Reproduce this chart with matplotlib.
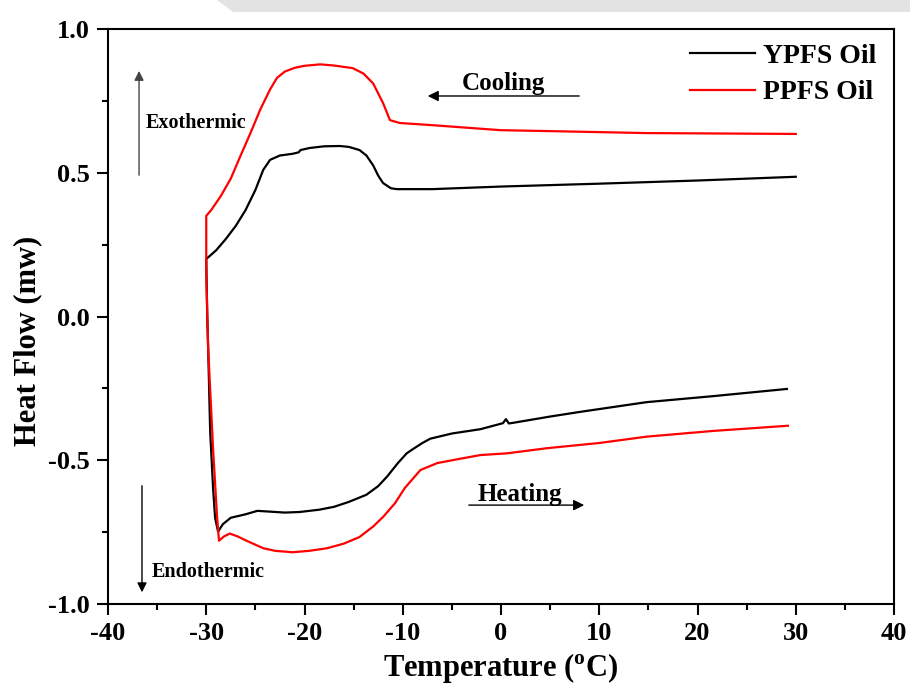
import matplotlib
matplotlib.use("Agg")
import matplotlib.pyplot as plt
from matplotlib.patches import Polygon

plt.rcParams.update({
    "font.family": "serif",
    "font.serif": ["Liberation Serif", "DejaVu Serif"],
    "font.weight": "bold",
    "axes.labelweight": "bold",
    "mathtext.fontset": "custom",
    "mathtext.rm": "Liberation Serif:bold",
    "mathtext.bf": "Liberation Serif:bold",
})

# YPFS oil: cooling run (30 -> -30 C) then heating run (-30 -> 30 C)
ypfs_cool_t = [30, 20, 10, 0, -7, -10.6, -11.2, -12, -12.5, -13, -13.7, -14.4, -15.5,
               -16.4, -18, -19.5, -20.4, -20.6, -21.2, -22.5, -23.5, -24.2, -25,
               -26, -27, -28, -29, -30]
ypfs_cool_hf = [0.486, 0.473, 0.462, 0.452, 0.443, 0.443, 0.446, 0.464, 0.49, 0.525,
                0.56, 0.579, 0.59, 0.593, 0.592, 0.586, 0.579, 0.571, 0.566, 0.56,
                0.545, 0.51, 0.44, 0.37, 0.315, 0.27, 0.23, 0.20]
ypfs_heat_t = [-30, -29.9, -29.8, -29.6, -29.3, -29.1, -28.8, -28.3, -27.5, -26, -24.8,
               -22, -20.5, -18.5, -17, -15.5, -13.7, -12.5, -11.6, -10.5, -9.6, -9.0,
               -8.0, -7.2, -5, -2.1, 0.2, 0.5, 0.8, 1.2, 5, 8, 14.8, 21.6, 29.1]
ypfs_heat_hf = [0.20, 0.0, -0.12, -0.40, -0.60, -0.70, -0.748, -0.722, -0.70, -0.688,
                -0.676, -0.682, -0.68, -0.672, -0.662, -0.645, -0.62, -0.59, -0.557,
                -0.51, -0.476, -0.462, -0.44, -0.425, -0.407, -0.392, -0.371, -0.357,
                -0.372, -0.370, -0.348, -0.332, -0.298, -0.277, -0.252]

# PPFS oil
ppfs_cool_t = [30, 20, 14.8, 4.7, 0, -7.2, -10.3, -11.3, -12, -13, -14, -15.1, -17,
               -18.4, -20, -21, -22, -22.8, -23.5, -24.5, -25.5, -26.5, -27.5, -28.5,
               -29.5, -30]
ppfs_cool_hf = [0.635, 0.637, 0.638, 0.645, 0.648, 0.666, 0.673, 0.683, 0.742, 0.81,
                0.845, 0.864, 0.873, 0.877, 0.872, 0.865, 0.852, 0.83, 0.79, 0.72,
                0.638, 0.56, 0.48, 0.42, 0.37, 0.35]
ppfs_heat_t = [-30, -30, -29.8, -29.3, -28.9, -28.7, -28.2, -27.6, -26.8, -25.9, -24.2,
               -23, -21.2, -19.5, -17.7, -16, -14.4, -13, -12, -10.8, -9.8, -8.2,
               -6.5, -4.2, -2.1, 0.6, 4.7, 10, 14.8, 21.6, 29.2]
ppfs_heat_hf = [0.35, 0.15, -0.116, -0.464, -0.697, -0.78, -0.765, -0.755, -0.765,
                -0.78, -0.806, -0.815, -0.82, -0.815, -0.806, -0.79, -0.767, -0.73,
                -0.697, -0.65, -0.597, -0.534, -0.51, -0.495, -0.482, -0.476, -0.458,
                -0.44, -0.418, -0.398, -0.38]

x_ticks = [-40, -30, -20, -10, 0, 10, 20, 30, 40]
y_ticks = [-1.0, -0.5, 0.0, 0.5, 1.0]

fig = plt.figure(figsize=(9.1, 6.84), dpi=100)
ax = fig.add_axes([108 / 910, 80 / 684, 786 / 910, 575 / 684])

# faint grey band at the top of the page
fig.patches.append(Polygon([[217 / 910, 1.0], [233 / 910, 1 - 12 / 684],
                            [1.0, 1 - 12 / 684], [1.0, 1.0]],
                           closed=True, transform=fig.transFigure,
                           facecolor="#e3e3e3", edgecolor="none", zorder=0))

ax.plot(ypfs_cool_t + ypfs_heat_t, ypfs_cool_hf + ypfs_heat_hf,
        color="black", lw=1.6, label="YPFS Oil")
ax.plot(ppfs_cool_t + ppfs_heat_t, ppfs_cool_hf + ppfs_heat_hf,
        color="#ff0000", lw=1.6, label="PPFS Oil")

ax.set_xlim(-40, 40)
ax.set_ylim(-1.0, 1.0)
ax.set_xticks(x_ticks)
ax.set_yticks(y_ticks)
ax.set_xticklabels([str(t) for t in x_ticks])
ax.set_yticklabels(["%.1f" % t for t in y_ticks])
ax.set_xticks(range(-35, 40, 10), minor=True)
ax.set_yticks([-0.75, -0.25, 0.25, 0.75], minor=True)
ax.tick_params(which="major", direction="out", length=8, width=1.5,
               labelsize=19, pad=5)
ax.tick_params(which="minor", direction="out", length=4.5, width=1.5)
for s in ax.spines.values():
    s.set_linewidth(1.5)

ax.set_xlabel(r"Temperature ($^{\mathbf{o}}$C)", fontsize=22, va="baseline")
ax.xaxis.set_label_coords(0.5, -0.125)
ax.set_ylabel("Heat Flow (mw)", fontsize=22)
ax.yaxis.set_label_coords(-0.084, 0.457)

ax.legend(loc="upper right", bbox_to_anchor=(0.978, 0.975), frameon=False,
          fontsize=20, handlelength=2.34, handletextpad=0.29, labelspacing=0.4,
          borderpad=0, borderaxespad=0)

# annotations
ax.annotate("", xy=(-36.84, 0.864), xytext=(-36.84, 0.482),
            arrowprops=dict(arrowstyle="-|>", color="#444444", lw=1, mutation_scale=14))
ax.text(-36.13, 0.656, "Exothermic", fontsize=14.5, va="baseline")
ax.annotate("", xy=(-36.54, -0.969), xytext=(-36.54, -0.579),
            arrowprops=dict(arrowstyle="-|>", color="black", lw=1, mutation_scale=14))
ax.text(-35.52, -0.906, "Endothermic", fontsize=14.5, va="baseline")

ax.annotate("", xy=(-7.74, 0.767), xytext=(8.24, 0.767),
            arrowprops=dict(arrowstyle="-|>", color="black", lw=1, mutation_scale=16))
ax.text(-3.97, 0.788, "Cooling", fontsize=18, va="baseline")
ax.annotate("", xy=(8.75, -0.656), xytext=(-3.56, -0.656),
            arrowprops=dict(arrowstyle="-|>", color="black", lw=1, mutation_scale=16))
ax.text(-2.34, -0.64, "Heating", fontsize=18, va="baseline")

fig.savefig("out.png", dpi=100)
